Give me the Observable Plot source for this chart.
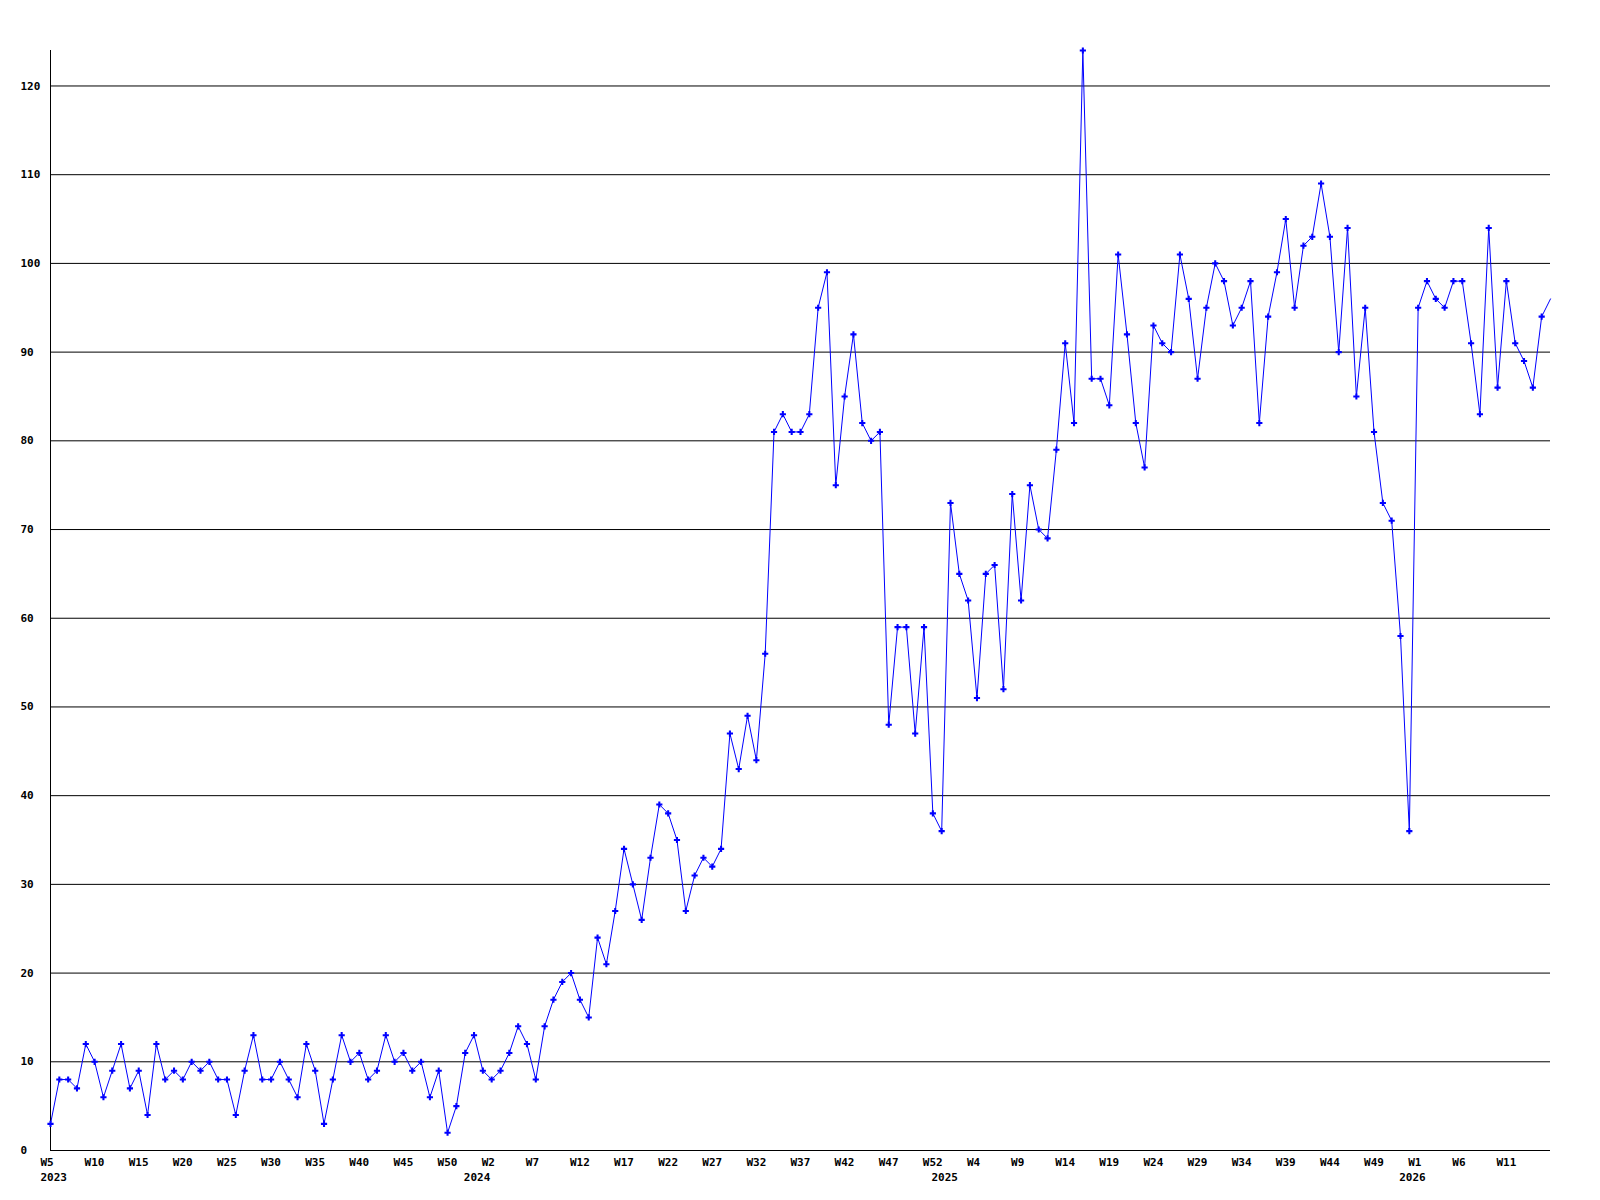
<!DOCTYPE html>
<html>
<head>
<meta charset="utf-8">
<script src="https://cdn.jsdelivr.net/npm/d3@7"></script>
<script src="https://cdn.jsdelivr.net/npm/@observablehq/plot@0.6"></script>
<style>
  html, body { margin: 0; padding: 0; background: #fff; }
  #chart svg { display: block; }
</style>
</head>
<body>
<div id="chart"></div>
<script>
// Weekly series, starting at 2023 W5 (weeks numbered 1..53 in each year)
const startYear = 2023;
const startWeek = 5;
const weeksPerYear = 53;

const values = [
  3, 8, 8, 7, 12, 10, 6, 9, 12, 7, 9, 4, 12, 8, 9, 8, 10, 9, 10, 8, 8, 4, 9, 13, 8,
  8, 10, 8, 6, 12, 9, 3, 8, 13, 10, 11, 8, 9, 13, 10, 11, 9, 10,
  6, 9, 2, 5, 11, 13, 9, 8, 9, 11, 14, 12, 8, 14,
  17, 19, 20, 17, 15, 24, 21, 27, 34, 30, 26, 33, 39, 38, 35, 27, 31, 33, 32, 34, 47, 43, 49, 44, 56,
  81, 83, 81, 81, 83, 95, 99, 75, 85, 92, 82, 80, 81, 48, 59, 59, 47, 59, 38, 36,
  73, 65, 62, 51, 65, 66, 52, 74, 62, 75, 70, 69, 79, 91, 82,
  124, 87, 87, 84, 101, 92, 82, 77, 93, 91, 90, 101, 96, 87, 95, 100, 98, 93, 95, 98, 82, 94, 99, 105,
  95, 102, 103, 109, 103, 90, 104, 85, 95, 81, 73, 71, 58, 36,
  95, 98, 96, 95, 98, 98, 91, 83, 104, 86, 98, 91, 89, 86, 94, 96
];

const yTicks = [0, 10, 20, 30, 40, 50, 60, 70, 80, 90, 100, 110, 120];
const xTickEvery = 5;

// categories: year / week of each point
const weeks = values.map((v, i) => {
  const k = startWeek - 1 + i;
  return { year: startYear + Math.floor(k / weeksPerYear), week: (k % weeksPerYear) + 1 };
});
const data = values.map((v, i) => ({ i, value: v, year: weeks[i].year, week: weeks[i].week }));
const last = data.length - 1;

const xTicks = data.filter(d => d.i % xTickEvery === 0 && d.i < last).map(d => d.i);
const yearLabels = data
  .filter(d => d.i === 0 || d.week === 1)
  .map(d => ({ i: d.i, label: String(d.year), first: d.i === 0 }));

const font = "'DejaVu Sans Mono', 'Liberation Mono', monospace";

const chart = Plot.plot({
  width: 1600,
  height: 1200,
  marginLeft: 50,
  marginRight: 50,
  marginTop: 50,
  marginBottom: 50,
  style: { fontFamily: font, fontSize: "11px", fontWeight: "bold", color: "#000", background: "#fff" },
  x: { domain: [0, last], axis: null },
  y: { domain: [0, 124], axis: null },
  marks: [
    Plot.gridY(yTicks, { stroke: "#000", strokeOpacity: 1, strokeWidth: 1 }),
    Plot.ruleX([0], { y1: 0, y2: 124, stroke: "#000", strokeWidth: 1 }),
    Plot.axisY({
      ticks: yTicks, tickSize: 0, tickPadding: 30, textAnchor: "start",
      label: null, fontWeight: "bold", fontSize: 11
    }),
    Plot.axisX({
      ticks: xTicks, tickSize: 0, tickPadding: 8, textAnchor: "start", dx: -10,
      tickFormat: i => "W" + data[i].week, label: null, fontWeight: "bold", fontSize: 11
    }),
    Plot.text(yearLabels.filter(d => d.first), {
      x: "i", text: "label", frameAnchor: "bottom", textAnchor: "start",
      dx: -10, dy: 27, lineAnchor: "middle", fontWeight: "bold", fontSize: 11
    }),
    Plot.text(yearLabels.filter(d => !d.first), {
      x: "i", text: "label", frameAnchor: "bottom", textAnchor: "start",
      dx: -19, dy: 27, lineAnchor: "middle", fontWeight: "bold", fontSize: 11
    }),
    Plot.line(data, { x: "i", y: "value", stroke: "#0000ff", strokeWidth: 1 }),
    Plot.dot(data.filter(d => d.i !== last), {
      x: "i", y: "value", symbol: "cross", r: 2.6, fill: "#0000ff", stroke: "none"
    })
  ]
});

document.getElementById("chart").appendChild(chart);
</script>
</body>
</html>
